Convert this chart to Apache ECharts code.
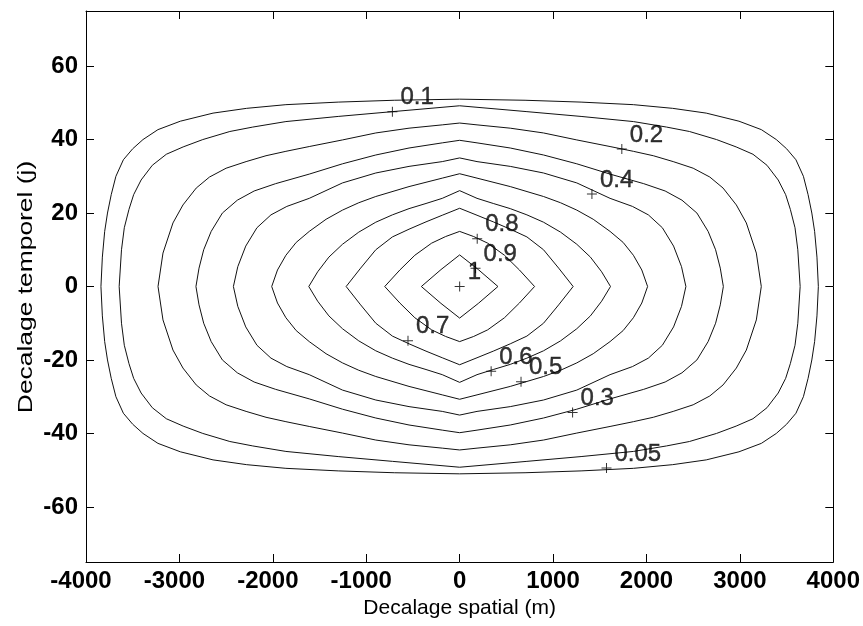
<!DOCTYPE html>
<html>
<head>
<meta charset="utf-8">
<script src="https://cdn.jsdelivr.net/npm/echarts@6/dist/echarts.min.js"></script>
<style>
  html, body { margin: 0; padding: 0; background: #ffffff; }
  #chart { width: 863px; height: 626px; }
</style>
</head>
<body>
<div id="chart"></div>
<script>
// Axis ticks
const xTicks = [-4000, -3000, -2000, -1000, 0, 1000, 2000, 3000, 4000];
const yTicks = [-60, -40, -20, 0, 20, 40, 60];

// Contour levels of the space-time correlation, outermost first
const levels = ['0.05', '0.1', '0.2', '0.3', '0.4', '0.5', '0.6', '0.7', '0.8', '0.9'];

// The correlation is even in both lags, so each contour is stored as its
// upper-left quarter: [spatial lag (m), temporal lag (j)], from the
// spatial-axis crossing up to the temporal-axis crossing.
const c005 = [[-3840, 0], [-3825, 8], [-3800, 15], [-3770, 20], [-3730, 25], [-3680, 30], [-3600, 34.5], [-3500, 37.5], [-3390, 40], [-3230, 42.7], [-2990, 45], [-2640, 47.2], [-2280, 48.5], [-1860, 49.5], [-1300, 50.2], [-700, 50.7], [0, 51]];
const c01 = [[-3645, 0], [-3620, 10], [-3590, 16], [-3540, 21], [-3490, 25], [-3410, 29], [-3290, 33], [-3140, 36], [-2960, 38], [-2750, 40], [-2460, 42.2], [-2215, 43.4], [-1860, 44.9], [-1300, 46.3], [-720, 47.6], [0, 49.2]];
const c02 = [[-3229, 0], [-3176, 9.1], [-3069, 17.3], [-2962, 22.2], [-2820, 26.8], [-2678, 29.8], [-2500, 32.2], [-2286, 34.0], [-2073, 35.6], [-1860, 36.8], [-1610, 38.1], [-1254, 39.9], [-898, 41.8], [-542, 43.1], [-186, 44.0], [0, 44.5]];
const c03 = [[-2823, 0], [-2790, 5], [-2740, 10], [-2660, 15], [-2540, 20], [-2380, 23.5], [-2200, 26], [-1970, 28], [-1610, 30.6], [-1254, 33.4], [-898, 35.8], [-542, 37.7], [-186, 39.1], [0, 39.8]];
const c04 = [[-2422, 0], [-2375, 5.4], [-2290, 11], [-2170, 16], [-2020, 19.5], [-1850, 21.8], [-1610, 24], [-1254, 28.2], [-898, 30.9], [-542, 32.7], [-186, 34.0], [0, 35.0]];
const c05 = [[-2012, 0], [-1950, 4.5], [-1860, 8.5], [-1750, 12], [-1610, 15], [-1430, 18.3], [-1254, 20.8], [-1080, 22.8], [-898, 24.5], [-542, 27.2], [-186, 29.5], [0, 30.7]];
const c06 = [[-1615, 0], [-1520, 4], [-1400, 8], [-1254, 11.5], [-1080, 14.8], [-898, 17.5], [-720, 19.5], [-542, 21.2], [-360, 22.6], [-186, 24], [0, 26.1]];
const c07 = [[-1215, 0], [-1060, 5], [-898, 10], [-720, 13.5], [-542, 15.6], [-360, 17.6], [-186, 19.4], [0, 21.3]];
const c08 = [[-802, 0], [-640, 4.5], [-480, 8.5], [-300, 11.8], [-150, 13.6], [0, 15]];
const c09 = [[-410, 0], [-200, 4.6], [0, 8.6]];
const quarters = [c005, c01, c02, c03, c04, c05, c06, c07, c08, c09];

// Contour labels and the '+' marks they belong to
const labelText = ['0.1', '0.2', '0.4', '0.8', '0.9', '1', '0.7', '0.6', '0.5', '0.3', '0.05'];
const labelX = [-720, 1736, 1416, 188, 170, 0, -553, 337, 657, 1209, 1572];
const labelY = [47.6, 37.4, 25.2, 13.0, 5.0, 0, -14.8, -23.1, -25.9, -34.3, -49.4];

// Close a quarter contour into a full loop by reflecting it across both axes
function closedLoop(q) {
  const ul = q.map(p => [p[0], p[1]]);
  const ur = q.slice(0, -1).reverse().map(p => [-p[0], p[1]]);
  const lr = q.slice(1).map(p => [-p[0], -p[1]]);
  const ll = q.slice(1, -1).reverse().map(p => [p[0], -p[1]]);
  const loop = ul.concat(ur, lr, ll);
  loop.push(loop[0]);
  return loop;
}

const FONT = "'Liberation Sans', Arial, Helvetica, sans-serif";
const black = '#000000';
const plain = v => String(v);
// negative x labels sit a little to the left of their tick
const xLabel = v => (v < 0 ? '{neg|' + v + '}' : '{pos|' + v + '}');
const xLabelRich = {
  neg: { padding: [0, 10, 0, 0], color: black, fontFamily: FONT, fontSize: 24, fontWeight: 'bold' },
  pos: { color: black, fontFamily: FONT, fontSize: 24, fontWeight: 'bold' }
};

const contourSeries = quarters.map((q, i) => ({
  name: levels[i],
  type: 'line',
  xAxisIndex: 0,
  yAxisIndex: 0,
  data: closedLoop(q),
  showSymbol: false,
  symbol: 'none',
  smooth: false,
  silent: true,
  lineStyle: { color: '#111111', width: 1 },
  z: 2
}));

const labelSeries = {
  type: 'scatter',
  xAxisIndex: 0,
  yAxisIndex: 0,
  symbol: 'path://M0,4.5H10V5.5H0ZM4.5,0H5.5V10H4.5Z',
  symbolSize: 10,
  itemStyle: { color: black },
  silent: true,
  z: 3,
  data: labelText.map((t, i) => ({ value: [labelX[i], labelY[i]], name: t })),
  label: {
    show: true,
    formatter: '{b}',
    position: [13, 3],
    align: 'left',
    verticalAlign: 'bottom',
    color: black,
    textBorderColor: black,
    textBorderWidth: 0.4,
    fontFamily: FONT,
    fontSize: 24
  }
};

const chart = echarts.init(document.getElementById('chart'), null, { renderer: 'canvas' });
chart.setOption({
  animation: false,
  backgroundColor: '#ffffff',
  grid: { left: 86, right: 28, top: 11, bottom: 64, containLabel: false },
  xAxis: [
    {
      type: 'value', position: 'bottom', min: -4000, max: 4000, interval: 1000,
      axisLine: { show: true, onZero: false, lineStyle: { color: black, width: 1 } },
      axisTick: { show: true, inside: true, length: 8, lineStyle: { color: black } },
      axisLabel: {
        show: true, margin: 7, color: black, fontFamily: FONT, fontSize: 24, fontWeight: 'bold',
        customValues: xTicks, formatter: xLabel, rich: xLabelRich
      },
      splitLine: { show: false },
      name: 'Decalage spatial (m)', nameLocation: 'middle', nameGap: 31,
      nameTextStyle: { color: black, fontFamily: FONT, fontSize: 21 }
    },
    {
      type: 'value', position: 'top', min: -4000, max: 4000, interval: 1000,
      axisLine: { show: true, onZero: false, lineStyle: { color: black, width: 1 } },
      axisTick: { show: true, inside: true, length: 8, lineStyle: { color: black } },
      axisLabel: { show: false },
      splitLine: { show: false }
    }
  ],
  yAxis: [
    {
      type: 'value', position: 'left', min: -75, max: 75,
      axisLine: { show: true, onZero: false, lineStyle: { color: black, width: 1 } },
      axisTick: { show: true, inside: true, length: 8, lineStyle: { color: black }, customValues: yTicks },
      axisLabel: {
        show: true, margin: 8, color: black, fontFamily: FONT, fontSize: 24, fontWeight: 'bold',
        customValues: yTicks, formatter: plain
      },
      splitLine: { show: false }
    },
    {
      type: 'value', position: 'right', min: -75, max: 75,
      axisLine: { show: true, onZero: false, lineStyle: { color: black, width: 1 } },
      axisTick: { show: true, inside: true, length: 8, lineStyle: { color: black }, customValues: yTicks },
      axisLabel: { show: false },
      splitLine: { show: false }
    }
  ],
  // vertical axis title, drawn with a wider letter run than the horizontal one
  graphic: [{
    type: 'text',
    x: 26.5,
    y: 287,
    rotation: Math.PI / 2,
    scaleX: 1.32,
    silent: true,
    style: {
      text: 'Decalage temporel (j)',
      fontFamily: FONT,
      fontSize: 20,
      fill: black,
      align: 'center',
      verticalAlign: 'middle'
    }
  }],
  series: contourSeries.concat([labelSeries])
});
</script>
</body>
</html>
